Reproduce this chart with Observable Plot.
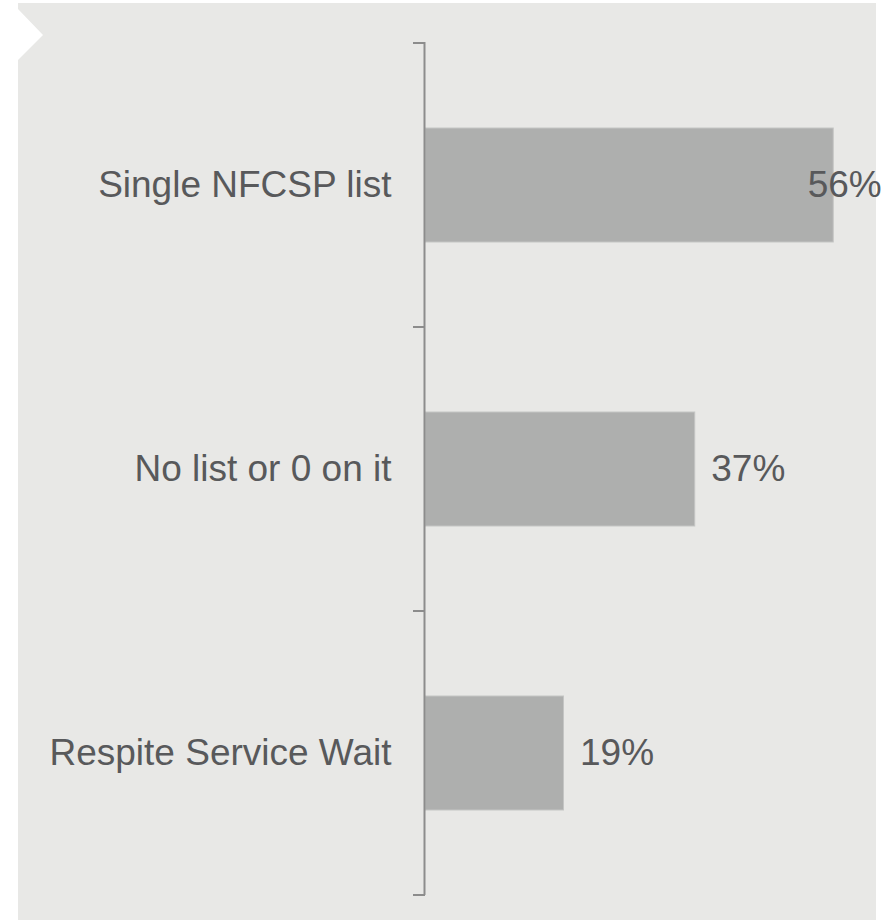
<!DOCTYPE html>
<html>
<head>
<meta charset="utf-8">
<script src="https://cdn.jsdelivr.net/npm/d3@7"></script>
<script src="https://cdn.jsdelivr.net/npm/@observablehq/plot@0.6"></script>
<style>
  html, body { margin: 0; padding: 0; background: #ffffff; }
  #wrap { position: relative; width: 893px; height: 920px; overflow: hidden; }
  #panel {
    position: absolute; left: 18px; top: 3px; width: 858px; height: 917px;
    background: #e8e8e6;
    clip-path: polygon(0 0, 100% 0, 100% 100%, 0 100%, 0 57px, 25px 32px, 0 6px);
  }
  #chart { position: absolute; left: 0; top: 0; }
</style>
</head>
<body>
<div id="wrap">
  <div id="panel"></div>
  <div id="chart"></div>
</div>
<script>
const categories = ["Single NFCSP list", "No list or 0 on it", "Respite Service Wait"];
const values = [0.56, 0.37, 0.19];
const valueLabels = ["56%", "37%", "19%"];

const data = categories.map((c, i) => ({cat: c, value: values[i], label: valueLabels[i]}));

const axisColor = "#8c8c8c";
const textColor = "#58595b";
const font = "'Liberation Sans', Arial, sans-serif";

// Category-boundary ticks (Excel style) drawn from the band scale
function boundaryTicks(index, scales, values, dims) {
  const y = scales.y;
  const step = (y.step ? y.step() : (dims.height - dims.marginTop - dims.marginBottom) / categories.length);
  const bw = y.bandwidth ? y.bandwidth() : 0;
  const ys = categories.map(c => y(c) + bw / 2 - step / 2);
  ys.push(y(categories[categories.length - 1]) + bw / 2 + step / 2);
  const g = d3.create("svg:g");
  const x0 = scales.x(0);
  g.selectAll("line").data(ys).join("line")
    .attr("x1", x0 - 12).attr("x2", x0)
    .attr("y1", d => d).attr("y2", d => d)
    .attr("stroke", axisColor).attr("stroke-width", 2);
  return g.node();
}

const chart = Plot.plot({
  width: 893,
  height: 920,
  marginLeft: 425,
  marginRight: 30.6,
  marginTop: 42,
  marginBottom: 25,
  style: {background: "transparent", fontFamily: font, fontSize: "37px", color: textColor},
  x: {domain: [0, 0.6], axis: null},
  y: {domain: categories, paddingInner: 0.6, paddingOuter: 0.3, label: null},
  marks: [
    Plot.barX(data, {x: "value", y: "cat", fill: "#aeafae", stroke: "#c4c5c4", strokeWidth: 1}),
    Plot.ruleX([0], {stroke: axisColor, strokeWidth: 2, dx: -1}),
    boundaryTicks,
    Plot.axisY({tickSize: 0, tickPadding: 34, fontSize: 37, fill: textColor, label: null}),
    Plot.text(data.filter(d => d.value < 0.5), {
      x: "value", y: "cat", text: "label", textAnchor: "start", dx: 16,
      fontSize: 37, fill: textColor
    }),
    Plot.text(data.filter(d => d.value >= 0.5), {
      x: "value", y: "cat", text: "label", textAnchor: "end", dx: 48,
      fontSize: 37, fill: textColor
    })
  ]
});

document.getElementById("chart").appendChild(chart);
</script>
</body>
</html>
